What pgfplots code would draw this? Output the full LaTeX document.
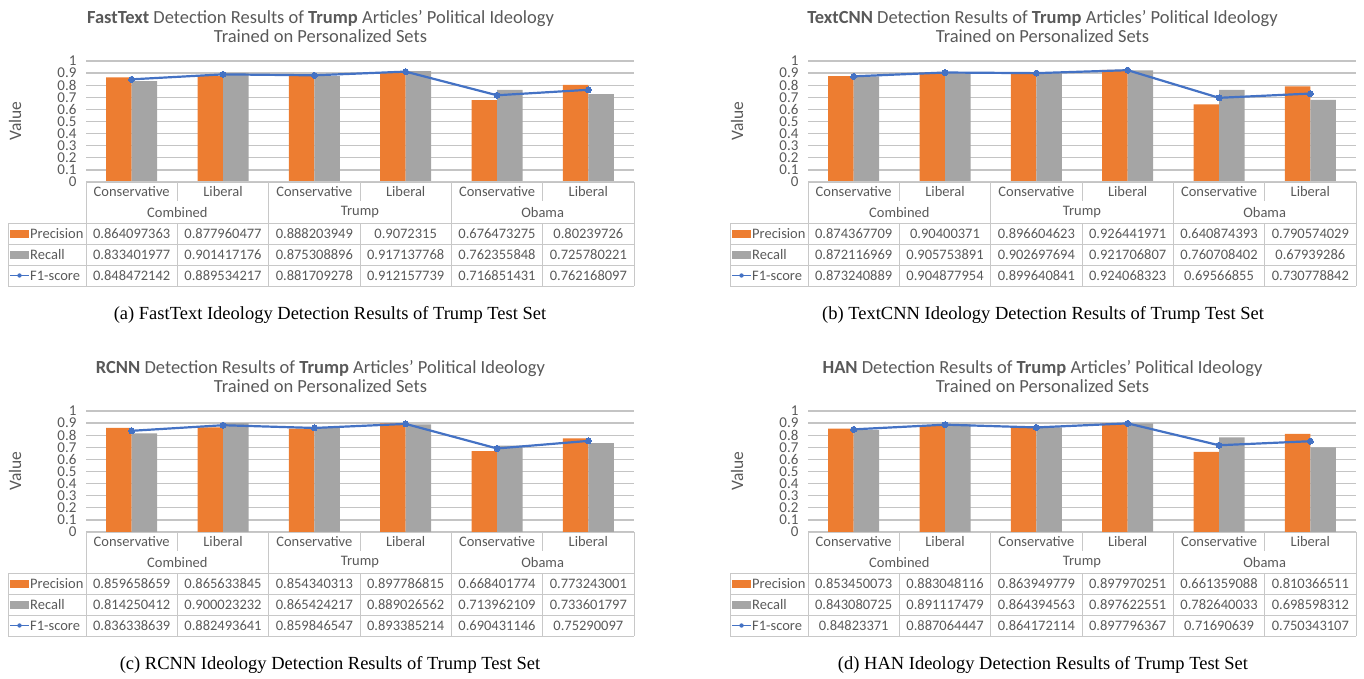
\documentclass[border=0pt]{standalone}
\usepackage{pgfplots}
\pgfplotsset{compat=1.18}
\usepackage{pgfplotstable}
\usepackage{fontspec}
\setmainfont{Carlito}
\newfontfamily\capfont{Liberation Serif}
\definecolor{cOr}{HTML}{ED7D31}
\definecolor{cGr}{HTML}{A5A5A5}
\definecolor{cBl}{HTML}{4472C4}
\definecolor{cTx}{HTML}{595959}
\definecolor{cGrid}{HTML}{C4C4C4}
\definecolor{cLine}{HTML}{C8C8C8}

\pgfplotstableread{
x P R F
0 0.864097363 0.833401977 0.848472142
1 0.877960477 0.901417176 0.889534217
2 0.888203949 0.875308896 0.881709278
3 0.9072315 0.917137768 0.912157739
4 0.676473275 0.762355848 0.716851431
5 0.80239726 0.725780221 0.762168097
}\tabA
\pgfplotstableread{
x P R F
0 0.874367709 0.872116969 0.873240889
1 0.90400371 0.905753891 0.904877954
2 0.896604623 0.902697694 0.899640841
3 0.926441971 0.921706807 0.924068323
4 0.640874393 0.760708402 0.69566855
5 0.790574029 0.67939286 0.730778842
}\tabB
\pgfplotstableread{
x P R F
0 0.859658659 0.814250412 0.836338639
1 0.865633845 0.900023232 0.882493641
2 0.854340313 0.865424217 0.859846547
3 0.897786815 0.889026562 0.893385214
4 0.668401774 0.713962109 0.690431146
5 0.773243001 0.733601797 0.75290097
}\tabC
\pgfplotstableread{
x P R F
0 0.853450073 0.843080725 0.84823371
1 0.883048116 0.891117479 0.887064447
2 0.863949779 0.864394563 0.864172114
3 0.897970251 0.897622551 0.897796367
4 0.661359088 0.782640033 0.71690639
5 0.810366511 0.698598312 0.750343107
}\tabD

\newcommand{\tfont}{\fontsize{14.5}{15}\selectfont}

% #1 dx, #2 dy, #3 table, #4 model, #5 caption text, #6 caption center x
\newcommand{\panel}[6]{%
  \begin{axis}[
    at={(86pt+#1pt,-182pt-#2pt)}, anchor=south west,
    scale only axis, width=548pt, height=121pt,
    xmin=-0.5, xmax=5.5, ymin=0, ymax=1,
    ytick={0,0.1,0.2,0.3,0.4,0.5,0.6,0.7,0.8,0.9,1},
    xtick=\empty,
    major tick length=0pt,
    ymajorgrids, grid style={cGrid, line width=1.3pt},
    axis line style={draw=none},
    tick label style={font=\fontsize{15}{15}\selectfont, text=cTx},
    yticklabel style={xshift=-6pt, inner ysep=0pt},
    /pgf/number format/assume math mode=true,
    clip=false,
  ]
    \addplot[ybar, bar width=25.5pt, bar shift=-12.75pt, fill=cOr, draw=none] table[x=x,y=P]{#3};
    \addplot[ybar, bar width=25.5pt, bar shift=12.75pt, fill=cGr, draw=none] table[x=x,y=R]{#3};
    \addplot[cBl, line width=2.2pt, mark=*, mark size=3pt, mark options={fill=cBl, draw=cBl, line width=0pt}] table[x=x,y=F]{#3};
  \end{axis}
  % title
  \node[font=\fontsize{18.5}{19}\selectfont, text=cTx, align=center] at (320.5+#1,-26.5-#2)
    {\textbf{#4} Detection Results of \textbf{Trump} Articles' Political Ideology\\Trained on Personalized Sets};
  % y label
  \node[rotate=90, font=\fontsize{17.5}{18}\selectfont, text=cTx] at (15+#1,-121-#2) {Value};
  % table grid
  \begin{scope}[cLine, line width=1pt]
    \draw (86+#1,-182-#2) -- (634+#1,-182-#2);
    \foreach \yy in {223,244,265,286} { \draw (8+#1,-\yy-#2) -- (634+#1,-\yy-#2); }
    \draw (8+#1,-223-#2) -- (8+#1,-286-#2);
    \foreach \xx in {86,268.67,451.33,634} { \draw (\xx+#1,-182-#2) -- (\xx+#1,-286-#2); }
    \foreach \xx in {177.33,360,542.67} {
      \draw (\xx+#1,-182-#2) -- (\xx+#1,-201-#2);
      \draw (\xx+#1,-223-#2) -- (\xx+#1,-286-#2);
    }
  \end{scope}
  % header labels
  \foreach \i/\lab in {0/Conservative,1/Liberal,2/Conservative,3/Liberal,4/Conservative,5/Liberal} {
    \node[font=\tfont, text=cTx] at (131.67+91.33*\i+#1,-192-#2) {\lab};
  }
  \foreach \i/\lab in {0/Combined,1/Trump,2/Obama} {
    \node[font=\tfont, text=cTx] at (177.33+182.67*\i+#1,-212.5-#2) {\lab};
  }
  % legend keys
  \fill[cOr] (10+#1,-229.5-#2) rectangle (29+#1,-237.5-#2);
  \fill[cGr] (10+#1,-250.5-#2) rectangle (29+#1,-258.5-#2);
  \draw[cBl, line width=1.6pt] (10+#1,-275.5-#2) -- (29+#1,-275.5-#2);
  \fill[cBl] (19.5+#1,-275.5-#2) circle (2.2);
  \node[font=\tfont, text=cTx, anchor=west, inner sep=0pt] at (30+#1,-233.5-#2) {Precision};
  \node[font=\tfont, text=cTx, anchor=west, inner sep=0pt] at (30+#1,-254.5-#2) {Recall};
  \node[font=\tfont, text=cTx, anchor=west, inner sep=0pt] at (30+#1,-275.5-#2) {F1-score};
  % values
  \foreach \i in {0,...,5} {
    \pgfplotstablegetelem{\i}{P}\of{#3}
    \node[font=\tfont, text=cTx] at (131.67+91.33*\i+#1,-233.5-#2) {\pgfplotsretval};
    \pgfplotstablegetelem{\i}{R}\of{#3}
    \node[font=\tfont, text=cTx] at (131.67+91.33*\i+#1,-254.5-#2) {\pgfplotsretval};
    \pgfplotstablegetelem{\i}{F}\of{#3}
    \node[font=\tfont, text=cTx] at (131.67+91.33*\i+#1,-275.5-#2) {\pgfplotsretval};
  }
  % caption
  \node[font=\capfont\fontsize{18.5}{19}\selectfont, text=black] at (#6,-315-#2) {#5};
}

\begin{document}
\begin{tikzpicture}[x=1pt,y=1pt]
\path[use as bounding box] (0,0) rectangle (1364,-679);
\panel{0}{0}{\tabA}{FastText}{(a) FastText Ideology Detection Results of Trump Test Set}{330}
\panel{722}{0}{\tabB}{TextCNN}{(b) TextCNN Ideology Detection Results of Trump Test Set}{1043}
\panel{0}{350}{\tabC}{RCNN}{(c) RCNN Ideology Detection Results of Trump Test Set}{330}
\panel{722}{350}{\tabD}{HAN}{(d) HAN Ideology Detection Results of Trump Test Set}{1043}
\end{tikzpicture}
\end{document}
